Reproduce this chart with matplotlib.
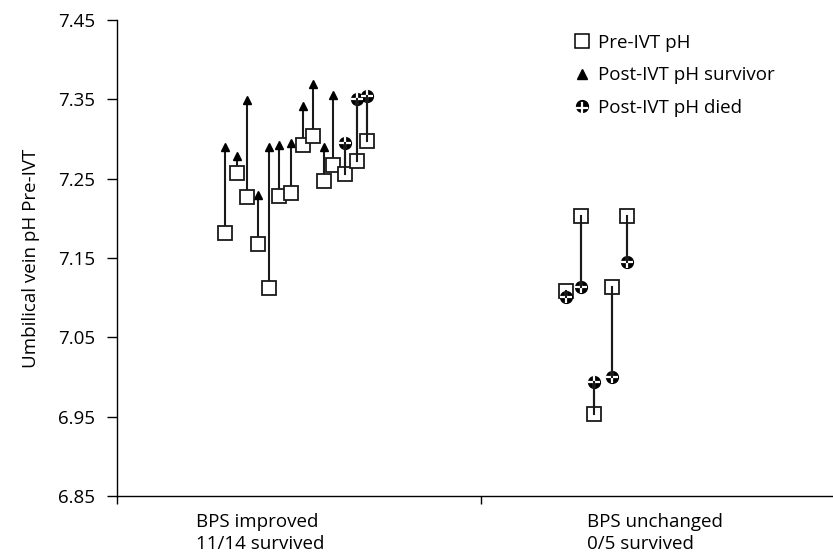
import matplotlib
matplotlib.use("Agg")
import matplotlib.pyplot as plt
from matplotlib.lines import Line2D

plt.rcParams['font.family'] = ['Open Sans', 'DejaVu Sans']

# Group 1: BPS improved (14 fetuses)
improved_x = [0.297, 0.330, 0.357, 0.387, 0.418, 0.445, 0.478, 0.511, 0.538,
              0.569, 0.593, 0.626, 0.659, 0.687]
improved_pre = [7.181, 7.257, 7.227, 7.168, 7.112, 7.228, 7.232, 7.292, 7.304,
                7.247, 7.267, 7.256, 7.272, 7.297]
improved_post = [7.290, 7.278, 7.349, 7.229, 7.290, 7.292, 7.295, 7.342, 7.369,
                 7.290, 7.355, 7.295, 7.350, 7.354]
improved_survived = [True] * 11 + [False] * 3

# Group 2: BPS unchanged (5 fetuses, none survived)
unchanged_x = [1.234, 1.275, 1.310, 1.360, 1.401]
unchanged_pre = [7.108, 7.203, 6.953, 7.113, 7.203]
unchanged_post = [7.101, 7.113, 6.994, 7.000, 7.145]
unchanged_survived = [False] * 5

category_labels = ["BPS improved\n11/14 survived", "BPS unchanged\n0/5 survived"]
y_ticks = [6.85, 6.95, 7.05, 7.15, 7.25, 7.35, 7.45]
legend_labels = ["Pre-IVT pH", "Post-IVT pH survivor", "Post-IVT pH died"]

FS = 13.5

fig = plt.figure(figsize=(8.33, 5.59), dpi=100)
ax = fig.add_axes([117 / 833, 1 - 496 / 559, 1 - 117 / 833, (496 - 20) / 559])


def draw_died(x, y, size=8.5, z=6):
    ax.plot([x], [y], marker='o', ms=size, mfc='black', mec='black',
            ls='none', zorder=z)
    ax.plot([x], [y], marker='+', ms=size, mew=1.6, mec='white',
            ls='none', zorder=z + 0.1)


def draw_group(xs, pre, post, survived):
    for x, a, b, s in zip(xs, pre, post, survived):
        ax.plot([x, x], [a, b], color='#1a1a1a', lw=1.5, zorder=3)
        if s:
            ax.plot([x], [b], marker='^', ms=6, color='black', ls='none', zorder=4)
        else:
            draw_died(x, b)
            # connecting line runs into the marker centre
            ax.plot([x, x], [a, b], color='#1a1a1a', lw=1.5, zorder=6.2)
    ax.plot(xs, pre, marker='s', ms=10.5, mfc='white', mec='#1a1a1a', mew=1.3,
            ls='none', zorder=5)


draw_group(improved_x, improved_pre, improved_post, improved_survived)
draw_group(unchanged_x, unchanged_pre, unchanged_post, unchanged_survived)

ax.set_xlim(0, (833 - 117) / 364)
ax.set_ylim(6.85, 7.45)
ax.set_yticks(y_ticks)
ax.set_yticklabels([f"{t:.2f}" for t in y_ticks])
ax.set_xticks([0, 1])
ax.set_xticklabels([])
ax.tick_params(axis='y', direction='out', length=7, width=1, labelsize=FS, pad=9)
ax.tick_params(axis='x', direction='out', length=6, width=1)
for side in ('top', 'right'):
    ax.spines[side].set_visible(False)
for side in ('left', 'bottom'):
    ax.spines[side].set_linewidth(1.0)
ax.set_ylabel("Umbilical vein pH Pre-IVT", fontsize=FS)
ax.yaxis.set_label_coords(-(117 - 40) / 716, 0.5)

# Category labels beneath the axis
label_x = [(196 - 117) / 364, (587 - 117) / 364]
for lx, txt in zip(label_x, category_labels):
    ax.text(lx, -0.035, txt, transform=ax.get_xaxis_transform(), ha='left',
            va='top', fontsize=FS, linespacing=1.3)

# Legend
handles = [
    Line2D([], [], marker='s', ms=9.5, mfc='white', mec='black', mew=1.1, ls='none'),
    Line2D([], [], marker='^', ms=6.5, color='black', ls='none'),
    Line2D([], [], marker='o', ms=8.5, mfc='black', mec='black', ls='none'),
]
leg = ax.legend(handles, legend_labels, loc='upper left',
                bbox_to_anchor=((567 - 117) / 716, 1 - (26 - 20) / 476),
                frameon=False, fontsize=FS, handlelength=0.8,
                handletextpad=0.45, labelspacing=0.78, borderaxespad=0)
fig.canvas.draw()

# white cross on the "died" legend marker
died_marker = leg.legend_handles[2]
died_text = leg.get_texts()[2].get_window_extent()
hx = died_text.x0 - 0.45 * FS * 100 / 72 - 0.4 * FS * 100 / 72
hy = (died_text.y0 + died_text.y1) / 2
fig.add_artist(Line2D([hx - 5, hx + 5], [hy, hy], color='white', lw=1.6,
                      transform=None, zorder=10))
fig.add_artist(Line2D([hx, hx], [hy - 5, hy + 5], color='white', lw=1.6,
                      transform=None, zorder=10))

fig.savefig("out.png", dpi=100)
